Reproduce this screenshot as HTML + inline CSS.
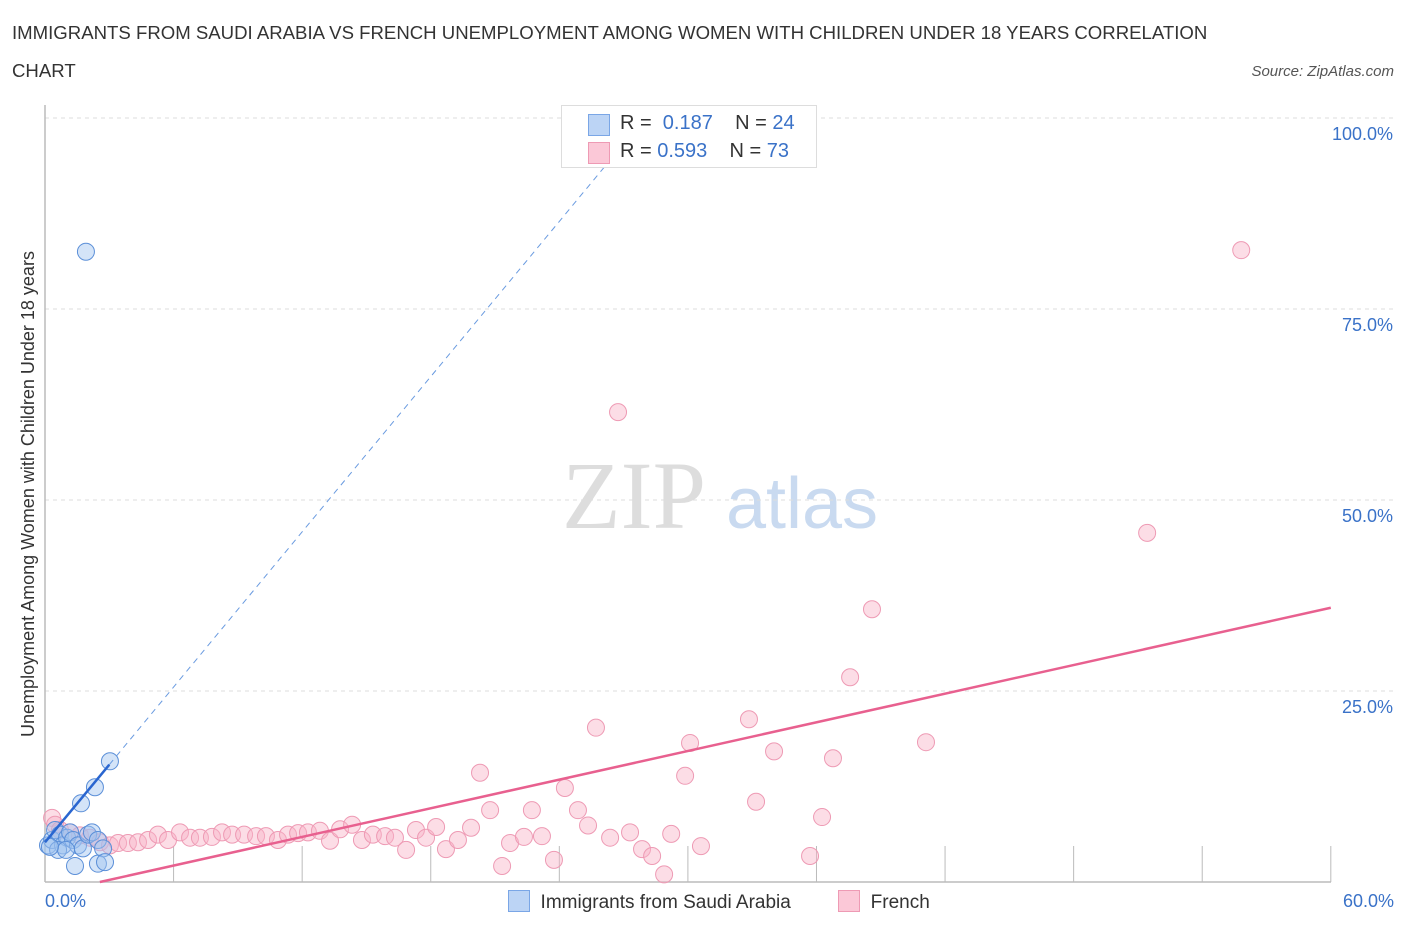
<!DOCTYPE html>
<html><head><meta charset="utf-8"><style>
body{margin:0;background:#fff;font-family:"Liberation Sans",sans-serif;}
</style></head><body>
<svg id="c" width="1406" height="930" style="font-family:'Liberation Sans',sans-serif">
<text x="12" y="39" font-size="18.6" fill="#333">IMMIGRANTS FROM SAUDI ARABIA VS FRENCH UNEMPLOYMENT AMONG WOMEN WITH CHILDREN UNDER 18 YEARS CORRELATION</text>
<text x="12" y="77" font-size="18.6" fill="#333">CHART</text>
<text x="1394" y="76" font-size="15" fill="#555" font-style="italic" text-anchor="end">Source: ZipAtlas.com</text>
<text x="634" y="528" font-size="96" fill="#ddd" style="font-family:'Liberation Serif',serif" text-anchor="middle">ZIP</text>
<text x="802" y="528" font-size="72" fill="#c9daf0" text-anchor="middle">atlas</text>
<text transform="translate(34,494) rotate(-90)" font-size="18" fill="#333" text-anchor="middle">Unemployment Among Women with Children Under 18 years</text>
<g id="grid"></g><g id="marks"></g>
</svg>
<script>
const yTicks=[25,50,75,100];
const yTickLabels=["25.0%","50.0%","75.0%","100.0%"];
const xTickLabels=["0.0%","60.0%"];
const blueX=[1.91,3.03,2.33,1.68,0.14,0.33,0.47,0.7,0.84,1.03,1.17,1.31,1.54,1.77,2.01,2.19,2.47,2.71,1.4,2.47,2.8,0.61,0.98,0.23];
const blueY=[82.5,15.8,12.4,10.3,4.8,5.5,6.8,6.2,4.8,5.8,6.5,5.5,4.8,4.4,6.2,6.5,5.5,4.4,2.1,2.4,2.6,4.2,4.2,4.6];
const pinkX=[0.33,0.47,0.7,1.17,1.63,2.1,2.57,3.03,3.41,3.87,4.34,4.81,5.27,5.74,6.3,6.77,7.23,7.79,8.26,8.73,9.29,9.85,10.31,10.87,11.34,11.81,12.27,12.83,13.3,13.77,14.33,14.79,15.3,15.87,16.33,16.85,17.31,17.78,18.25,18.71,19.27,19.88,20.3,20.77,21.33,21.7,22.35,22.72,23.19,23.75,24.26,24.87,25.34,25.71,26.37,26.74,27.3,27.86,28.33,28.89,29.22,29.87,30.1,30.61,32.85,33.18,34.02,35.7,36.26,36.77,37.57,38.59,41.11,51.43,55.82];
const pinkY=[8.4,7.5,6.8,6.5,6.1,5.8,5.2,4.8,5.1,5.1,5.2,5.5,6.2,5.5,6.5,5.8,5.8,5.9,6.5,6.2,6.2,6.0,6.0,5.5,6.2,6.4,6.5,6.7,5.4,6.9,7.5,5.5,6.2,6.0,5.8,4.2,6.8,5.8,7.2,4.3,5.5,7.1,14.3,9.4,2.1,5.1,5.9,9.4,6.0,2.9,12.3,9.4,7.4,20.2,5.8,61.5,6.5,4.3,3.4,1.0,6.3,13.9,18.2,4.7,21.3,10.5,17.1,3.4,8.5,16.2,26.8,35.7,18.3,45.7,82.7];
const X=v=>45+v*21.43, Y=v=>882-v*7.64;
const NS="http://www.w3.org/2000/svg";
const g=document.getElementById('grid'), m=document.getElementById('marks');
function el(t,a,p){const e=document.createElementNS(NS,t);for(const k in a)e.setAttribute(k,a[k]);p.appendChild(e);return e;}
yTicks.forEach((t,i)=>{
 const l=el('line',{x1:45,x2:1395,y1:Y(t),y2:Y(t),stroke:'#ddd','stroke-dasharray':'4,4'},g);
 
 
 const tx=el('text',{x:1393,y:Y(t)+22,'font-size':18,fill:'#3a72c8','text-anchor':'end'},g);
 tx.textContent=yTickLabels[i];
 
 
});
const ax=el('line',{x1:45,x2:45,y1:105,y2:882,stroke:'#bbb','stroke-width':1.5},g);


const bx=el('line',{x1:45,x2:1331,y1:882,y2:882,stroke:'#bbb','stroke-width':1.5},g);


for(let i=1;i<=10;i++){const t=el('line',{x1:X(i*6),x2:X(i*6),y1:882,y2:846,stroke:'#bbb'},g);
 
 }
[[0,'start',45],[60,'end',1394]].forEach((d,i)=>{const t=el('text',{x:d[2],y:907,'font-size':18,fill:'#3a72c8','text-anchor':d[1]},g);t.textContent=xTickLabels[i];
 
 });
pinkX.forEach((x,i)=>{const c=el('circle',{cx:X(x),cy:Y(pinkY[i]),r:8.5,fill:'rgba(248,180,200,0.45)',stroke:'#ee9ab4','stroke-width':1},m);
 
 });
blueX.forEach((x,i)=>{const c=el('circle',{cx:X(x),cy:Y(blueY[i]),r:8.5,fill:'rgba(160,195,240,0.45)',stroke:'#5b8fd8','stroke-width':1},m);
 
 });
const bi=5.2,bs=3.386,pi=-1.6,ps=0.625;
const bd=el('line',{x1:X(3),y1:Y(bi+bs*3),x2:X((96-bi)/bs),y2:Y(96),stroke:'#6a9be0','stroke-dasharray':'6,5','stroke-width':1},m);


const bl=el('line',{x1:X(0),y1:Y(bi),x2:X(3),y2:Y(bi+bs*3),stroke:'#2a66d0','stroke-width':2.5},m);


const pl=el('line',{x1:X(-pi/ps),y1:Y(0),x2:X(60),y2:Y(pi+ps*60),stroke:'#e8608f','stroke-width':2.5},m);


</script>
<div style="position:absolute;left:561px;top:105px;width:254px;height:61px;background:#fff;border:1px solid #ddd;font-size:20px;color:#333;">
 <div style="position:absolute;left:26px;top:8px;width:20px;height:20px;background:#bcd4f5;border:1px solid #7aa6e6"></div>
 <div style="position:absolute;left:58px;top:6px">R = &nbsp;<span style="color:#3a72c8">0.187</span>&nbsp;&nbsp;&nbsp; N = <span style="color:#3a72c8">24</span></div>
 <div style="position:absolute;left:26px;top:36px;width:20px;height:20px;background:#fbc8d7;border:1px solid #ee9ab4"></div>
 <div style="position:absolute;left:58px;top:34px">R = <span style="color:#3a72c8">0.593</span>&nbsp;&nbsp;&nbsp; N = <span style="color:#3a72c8">73</span></div>
</div>
<div style="position:absolute;left:508px;top:890px;font-size:19px;color:#333;">
 <span style="display:inline-block;width:20px;height:20px;background:#bcd4f5;border:1px solid #7aa6e6;vertical-align:-4px"></span>&nbsp; Immigrants from Saudi Arabia
 <span style="display:inline-block;width:20px;height:20px;background:#fbc8d7;border:1px solid #ee9ab4;vertical-align:-4px;margin-left:42px"></span>&nbsp; French
</div>
</body></html>
